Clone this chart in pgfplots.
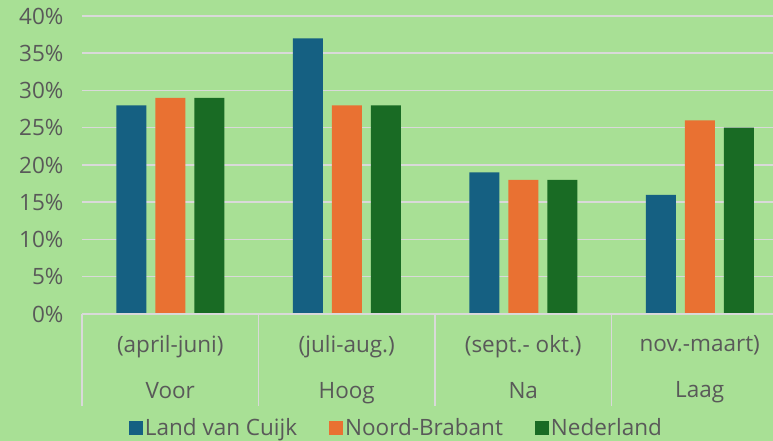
\documentclass[border=0pt]{standalone}
\usepackage{fontspec}
\setmainfont{Open Sans}
\usepackage{pgfplots}
\pgfplotsset{compat=1.18}
\definecolor{bg}{HTML}{A8E095}
\definecolor{cblue}{HTML}{156082}
\definecolor{corange}{HTML}{E97132}
\definecolor{cgreen}{HTML}{196B24}
\definecolor{gridc}{HTML}{D9D9D9}
\definecolor{txt}{HTML}{595959}
\begin{document}
\begin{tikzpicture}[x=1pt,y=1pt]
\fill[bg] (0,0) rectangle (773,441);
\begin{axis}[
  at={(82pt,127pt)}, anchor=south west,
  scale only axis, width=691pt, height=298pt,
  xmin=-0.5, xmax=3.415, ymin=0, ymax=40,
  axis line style={draw=none},
  ybar, bar width=30pt,
  ytick={0,5,...,40},
  ymajorgrids, xmajorgrids=false, grid style={gridc, line width=1.5pt},
  major tick length=0pt,
  yticklabel={\pgfmathprintnumber{\tick}\%},
  /pgf/number format/assume math mode=true,
  yticklabel style={font=\fontsize{22.5}{26}\selectfont, text=txt, xshift=-15pt},
  xtick={0,1,2,3},
  xticklabels={{(april-juni)\\Voor},{(juli-aug.)\\Hoog},{(sept.- okt.)\\Na},{nov.-maart)\\Laag}},
  xticklabel style={align=center, font=\fontsize{22.5}{46}\selectfont, text=txt, yshift=-18pt},
  legend style={at={(0.455,-0.383)}, anchor=center, draw=none, fill=none,
     legend columns=3, font=\fontsize{22.5}{26}\selectfont, text=txt,
     /tikz/every even column/.append style={column sep=30pt},
     /tikz/every odd column/.append style={column sep=0pt}},
  legend image code/.code={\fill[#1] (2pt,-7pt) rectangle (16pt,7pt);},
  clip=false,
]
\addplot[fill=cblue, draw=none, bar shift=-39pt] coordinates {(0,28) (1,37) (2,19) (3,16)};
\addplot[fill=corange, draw=none, bar shift=0pt] coordinates {(0,29) (1,28) (2,18) (3,26)};
\addplot[fill=cgreen, draw=none, bar shift=39pt] coordinates {(0,29) (1,28) (2,18) (3,25)};
\legend{Land van Cuijk, Noord-Brabant, Nederland}
\end{axis}
\begin{scope}[draw=gridc, line width=1.5pt]
\draw (82,127) -- (773,127);
\foreach \xx in {82,258.5,435,611.5} \draw (\xx,127) -- (\xx,35);
\end{scope}
\pgfresetboundingbox
\useasboundingbox (0,0) rectangle (773,441);
\end{tikzpicture}
\end{document}
